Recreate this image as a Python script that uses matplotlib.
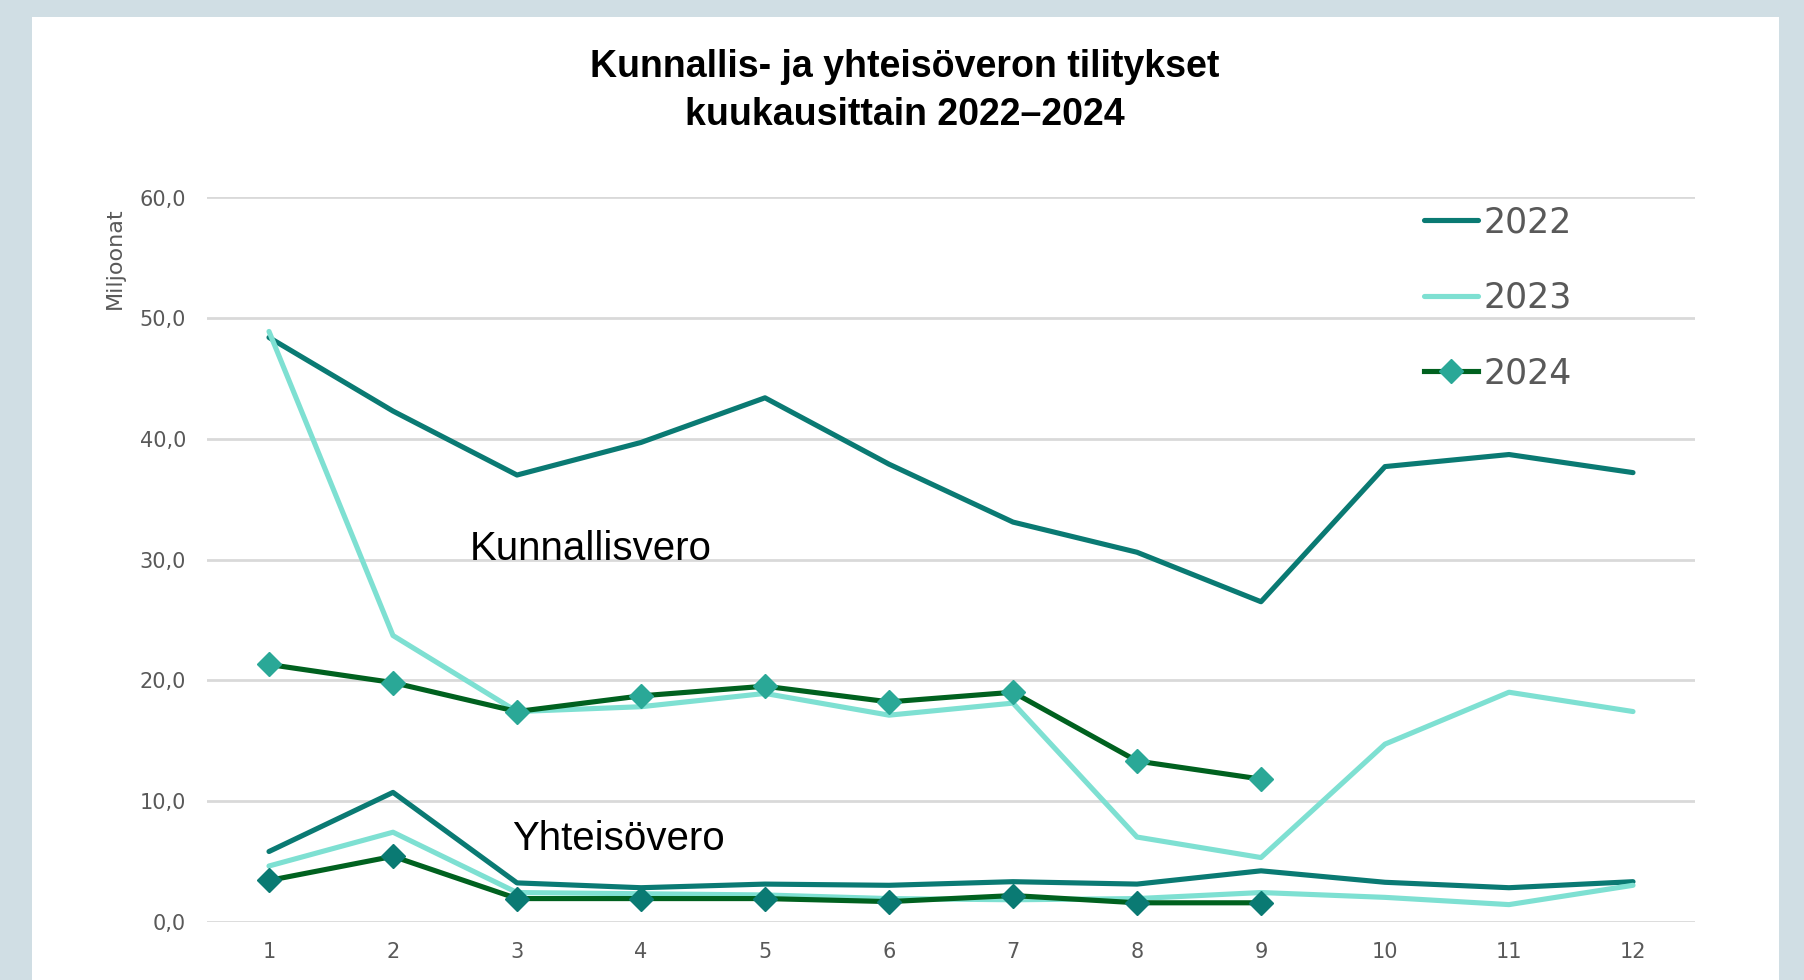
import matplotlib
matplotlib.use("Agg")
import matplotlib.pyplot as plt
from matplotlib.patches import Rectangle

# months 1..12
months = list(range(1, 13))

# Kunnallisvero (millions)
kunnallis_2022 = [48.4, 42.3, 37.0, 39.7, 43.4, 37.9, 33.1, 30.6, 26.5, 37.7, 38.7, 37.2]
kunnallis_2023 = [48.9, 23.7, 17.4, 17.8, 18.9, 17.1, 18.1, 7.0, 5.3, 14.7, 19.0, 17.4]
kunnallis_2024 = [21.3, 19.8, 17.4, 18.7, 19.5, 18.2, 19.0, 13.3, 11.8]

# Yhteisövero (millions)
yhteiso_2022 = [5.8, 10.7, 3.2, 2.8, 3.1, 3.0, 3.3, 3.1, 4.2, 3.25, 2.8, 3.3]
yhteiso_2023 = [4.6, 7.4, 2.4, 2.3, 2.2, 1.9, 1.8, 1.9, 2.4, 2.0, 1.4, 3.0]
yhteiso_2024 = [3.4, 5.4, 1.9, 1.9, 1.9, 1.65, 2.15, 1.55, 1.55]

years = ["2022", "2023", "2024"]
yticks = [0, 10, 20, 30, 40, 50, 60]

C22 = "#0A7A73"
C23 = "#7EE0D2"
C24 = "#00611F"
M_KUN = "#2AA897"
M_YHT = "#0A7A73"
GREY = "#595959"

fig = plt.figure(figsize=(18.04, 9.80), dpi=100)
fig.patch.set_facecolor("#D0DEE4")
# white card
fig.add_artist(Rectangle((32 / 1804, 0), (1779 - 32) / 1804, 1 - 17 / 980,
                         transform=fig.transFigure, facecolor="white",
                         edgecolor="none", zorder=0))

ax = fig.add_axes([207 / 1804, (980 - 921.5) / 980, (1695 - 207) / 1804, (921.5 - 197.5) / 980])
ax.set_facecolor("none")

lw = 3.7
n24 = len(kunnallis_2024)
ax.plot(months, kunnallis_2022, color=C22, lw=lw, label=years[0], solid_capstyle="round")
ax.plot(months, kunnallis_2023, color=C23, lw=lw, label=years[1], solid_capstyle="round")
ax.plot(months[:n24], kunnallis_2024, color=C24, lw=lw, label=years[2],
        marker="D", ms=12, mfc=M_KUN, mec=M_KUN)

ax.plot(months, yhteiso_2022, color=C22, lw=lw, label="_nolegend_", solid_capstyle="round")
ax.plot(months, yhteiso_2023, color=C23, lw=lw, label="_nolegend_", solid_capstyle="round")
ax.plot(months[:n24], yhteiso_2024, color=C24, lw=lw, label="_nolegend_",
        marker="D", ms=12, mfc=M_YHT, mec=M_YHT)

ax.set_xlim(0.5, 12.5)
ax.set_ylim(0, 60)
ax.set_xticks(months)
ax.set_yticks(yticks)
ax.set_yticklabels([f"{v:.1f}".replace(".", ",") for v in yticks])
ax.tick_params(axis="both", length=0, labelsize=15, labelcolor=GREY)
ax.tick_params(axis="y", pad=15)
ax.tick_params(axis="x", pad=15)
for s in ax.spines.values():
    s.set_visible(False)
ax.grid(axis="y", color="#D9D9D9", lw=2)
ax.set_axisbelow(True)

ax.text(2.62, 30.9, "Kunnallisvero", fontsize=29, family="Liberation Sans",
        ha="left", va="center", color="black")
ax.text(2.96, 6.8, "Yhteisövero", fontsize=29, family="Liberation Sans",
        ha="left", va="center", color="black")

fig.text(115 / 1804, 1 - 258 / 980, "Miljoonat", rotation=90, fontsize=16,
         color=GREY, ha="center", va="center")

fig.text(905 / 1804, 1 - 67 / 980, "Kunnallis- ja yhteisöveron tilitykset",
         fontsize=27, fontweight="bold", family="Liberation Sans", ha="center", va="center")
fig.text(905 / 1804, 1 - 115 / 980, "kuukausittain 2022\u20132024",
         fontsize=27, fontweight="bold", family="Liberation Sans", ha="center", va="center")

leg = ax.legend(loc="upper left", bbox_to_anchor=(1424 / 1804, 1 - 205 / 980),
                bbox_transform=fig.transFigure, frameon=False, fontsize=25,
                handlelength=1.55, handletextpad=0.15, labelspacing=1.2,
                borderpad=0, borderaxespad=0)
for t in leg.get_texts():
    t.set_color(GREY)

fig.savefig("out.png", dpi=100, facecolor=fig.get_facecolor())
